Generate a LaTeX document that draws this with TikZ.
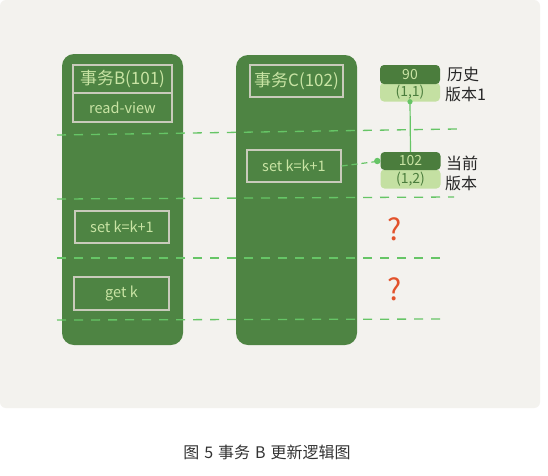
\documentclass[tikz,border=0pt]{standalone}
\usepackage{fontspec}
\setmainfont{Noto Sans CJK SC}
\definecolor{bgc}{HTML}{F3F2EE}
\definecolor{colg}{HTML}{4E8443}
\definecolor{boxline}{HTML}{C9CBBB}
\definecolor{txtg}{HTML}{C9E4A4}
\definecolor{dashg}{HTML}{66C566}
\definecolor{verdark}{HTML}{4B7D3D}
\definecolor{verlight}{HTML}{C4E0A2}
\definecolor{qred}{HTML}{E2522B}
\definecolor{captc}{HTML}{333333}
\tikzset{
  colbox/.style={fill=colg, rounded corners=12pt, inner sep=0pt},
  opbox/.style={draw=boxline, line width=1.2pt, text=txtg, inner sep=0pt, font=\fontsize{14.5}{16}\selectfont},
  hdrbox/.style={opbox, font=\fontsize{17}{19}\selectfont},
  vdark/.style={fill=verdark, rounded corners=4pt, text=txtg, inner sep=0pt, minimum width=60pt, font=\fontsize{14}{15}\selectfont},
  vlight/.style={fill=verlight, rounded corners=4pt, text=verdark, inner sep=0pt, minimum width=60pt, font=\fontsize{14}{15}\selectfont},
  vlabel/.style={anchor=west, text=black!85, inner sep=0pt, font=\fontsize{16}{18}\selectfont},
  sepline/.style={draw=dashg, line width=1.3pt, dash pattern=on 9pt off 8pt},
  link/.style={draw=dashg, line width=1.2pt},
  qmark/.style={text=qred, inner sep=0pt, font=\fontsize{30}{32}\selectfont},
}
\begin{document}
\begin{tikzpicture}[x=1pt,y=-1pt]
\useasboundingbox (0,0) rectangle (548,475);
\fill[white] (0,0) rectangle (548,475);
\fill[bgc, rounded corners=6pt] (0,0) rectangle (540,408);

% columns
\node[colbox, minimum width=121pt, minimum height=291pt] (colB) at (122.5,199.5) {};
\node[colbox, minimum width=121pt, minimum height=290pt] (colC) at (296.5,200) {};

% boxes in column B
\node[hdrbox, minimum width=99pt, minimum height=28pt] (hdrB) at (122.5,79) {事务B(101)};
\node[opbox, minimum width=99pt, minimum height=29pt] (rvB) at (122.5,107.5) {read-view};
\node[opbox, minimum width=94pt, minimum height=32pt] (setB) at (122,227) {set k=k+1};
\node[opbox, minimum width=95pt, minimum height=33pt] (getB) at (121.5,293.5) {get k};

% boxes in column C
\node[hdrbox, minimum width=93pt, minimum height=32pt] (hdrC) at (296.5,81) {事务C(102)};
\node[opbox, minimum width=94pt, minimum height=32pt] (setC) at (294,166) {set k=k+1};

% dashed separators
\coordinate (d1a) at (57,135); \coordinate (d1b) at (457,129);
\coordinate (d2a) at (57,199); \coordinate (d2b) at (454,197);
\coordinate (d3a) at (57,258); \coordinate (d3b) at (443,258);
\coordinate (d4a) at (57,320); \coordinate (d4b) at (443,319);
\draw[sepline] (d1a) -- (d1b);
\draw[sepline] (d2a) -- (d2b);
\draw[sepline] (d3a) -- (d3b);
\draw[sepline] (d4a) -- (d4b);

% versions
\node[vlight, minimum height=19pt] (v11) at (410,92) {(1,1)};
\node[vdark, minimum height=19pt] (v90) at (410,74.5) {90};
\node[vlight, minimum height=19pt] (v12) at (410.5,179) {(1,2)};
\node[vdark, minimum height=18pt] (v102) at (410.5,161) {102};

\node[vlabel] (l1) at (447,74) {历史};
\node[vlabel] (l2) at (445,94) {版本1};
\node[vlabel] (l3) at (446,163) {当前};
\node[vlabel] (l4) at (445,183) {版本};

% connectors
\draw[link] (v11.south) -- (v102.north);
\fill[dashg] (v11.south) circle (2.6pt);
\draw[link, dash pattern=on 6pt off 4pt] (setC.east) -- (v102.west);
\fill[dashg] ([xshift=-3pt]v102.west) circle (3.2pt);

% question marks
\node[qmark] (q1) at (395,229) {?};
\node[qmark] (q2) at (395,289) {?};

% caption
\node[text=captc, font=\fontsize{16}{18}\selectfont, inner sep=0pt] (cap) at (267,452) {图\hspace{5pt}5\hspace{5pt}事务\hspace{5pt}B\hspace{5pt}更新逻辑图};
\end{tikzpicture}
\end{document}
